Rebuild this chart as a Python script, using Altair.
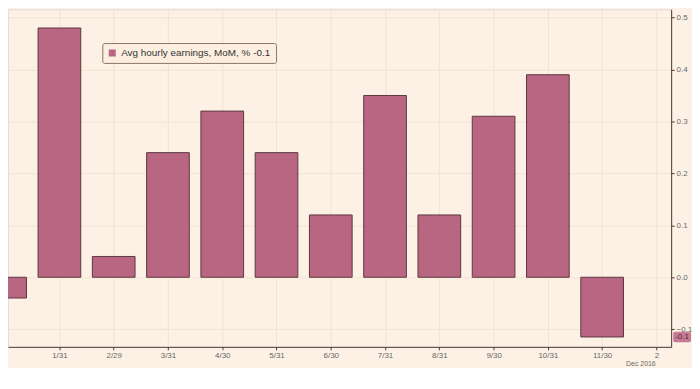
import altair as alt
import pandas as pd

labels = ["12/31", "1/31", "2/29", "3/31", "4/30", "5/31", "6/30", "7/31", "8/31", "9/30", "10/31", "11/30"]
values = [-0.04, 0.48, 0.04, 0.24, 0.32, 0.24, 0.12, 0.35, 0.12, 0.31, 0.39, -0.115]
tick_labels = ["1/31", "2/29", "3/31", "4/30", "5/31", "6/30", "7/31", "8/31", "9/30", "10/31", "11/30", "2"]
series = "Avg hourly earnings, MoM, % -0.1"
last_label = "-0.1"

df = pd.DataFrame({"idx": list(range(len(values))), "month": labels, "value": values, "series": series})

W, H = 668, 340
BG = "#fdf1e5"
GRID = "#f1e2d3"
FONT = "Liberation Sans"

label_expr = "[" + ",".join(f"'{t}'" for t in tick_labels) + "][datum.value - 1]"

x = alt.X("idx:Q",
          scale=alt.Scale(domain=[0.144, 12.18], nice=False, zero=False),
          axis=alt.Axis(values=list(range(1, 13)), labelExpr=label_expr, title="Dec 2016",
                        titleX=637, titleY=13, titleFontSize=7, titleFontWeight="normal",
                        titleColor="#666", titleAlign="center",
                        labelFontSize=8, labelColor="#666", labelFont=FONT, titleFont=FONT,
                        domainColor="#4a3a34", tickColor="#4a3a34", tickSize=3,
                        gridColor=GRID, labelPadding=2))
y = alt.Y("value:Q",
          scale=alt.Scale(domain=[-0.134, 0.516], nice=False, zero=False),
          axis=alt.Axis(orient="right", values=[-0.1, 0.0, 0.1, 0.2, 0.3, 0.4, 0.5], format=".1f",
                        title=None, labelFontSize=8, labelColor="#666", labelFont=FONT,
                        domainColor="#4a3a34", tickColor="#4a3a34", tickSize=3,
                        gridColor=GRID, labelPadding=2))

bars = alt.Chart(df).mark_bar(size=43, stroke="#5a383e", strokeWidth=1, clip=True).encode(
    x=x, y=y, y2=alt.datum(0),
    fill=alt.Fill("series:N", scale=alt.Scale(range=["#b96683"]),
                  legend=alt.Legend(title=None, orient="none", legendX=95, legendY=34,
                                    fillColor="#fcefe0", strokeColor="#8a7566", cornerRadius=2,
                                    padding=5, symbolType="square", symbolSize=50,
                                    symbolStrokeWidth=0, labelFontSize=10, labelColor="#333",
                                    labelFont=FONT)),
)

last = pd.DataFrame({"value": [values[-1]], "lo": [values[-1] - 0.01], "hi": [values[-1] + 0.01], "txt": [last_label]})
box = alt.Chart(last).mark_rect(fill="#c77a93", cornerRadius=2).encode(
    x=alt.value(W + 2), x2=alt.value(W + 20), y="lo:Q", y2="hi:Q")
txt = alt.Chart(last).mark_text(fontSize=8, color="#5a2a3a", align="center", font=FONT).encode(
    x=alt.value(W + 11), y="value:Q", text="txt:N")

chart = alt.layer(bars, box, txt).properties(width=W, height=H, background=BG).configure_view(
    stroke=None).configure(padding={"left": 0, "top": 0, "right": 0, "bottom": 0})

chart.save("out.html", embed_options={"renderer": "svg", "actions": False})
